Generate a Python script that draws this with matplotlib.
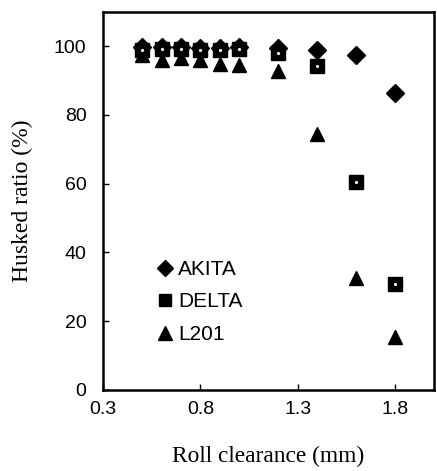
import matplotlib
matplotlib.use("Agg")
import matplotlib.pyplot as plt

# roll clearance (mm)
clearance = [0.5, 0.6, 0.7, 0.8, 0.9, 1.0, 1.2, 1.4, 1.6, 1.8]

# husked ratio (%)
akita = [99.8, 99.8, 99.8, 99.6, 99.6, 99.8, 99.5, 98.8, 97.5, 86.3]
delta = [99.0, 99.3, 99.3, 99.0, 99.0, 99.3, 98.0, 94.2, 60.4, 30.9]
l201 = [97.5, 96.0, 96.7, 96.1, 94.7, 94.6, 92.8, 74.5, 32.7, 15.3]

xticks = [0.3, 0.8, 1.3, 1.8]
yticks = [0, 20, 40, 60, 80, 100]

fig = plt.figure(figsize=(4.37, 4.71), dpi=100)
ax = fig.add_axes([0.236, 0.172, 0.757, 0.803])

ax.plot(clearance, akita, linestyle='none', marker='D', markersize=9,
        color='black', label='AKITA')
ax.plot(clearance, l201, linestyle='none', marker='^', markersize=10.5,
        color='black', label='L201')
ax.plot(clearance, delta, linestyle='none', marker='s', markersize=9.5,
        color='black', label='DELTA')
# little white dots inside the squares
ax.plot(clearance, delta, linestyle='none', marker='.', markersize=2.5,
        color='white')

ax.set_xlim(0.3, 2.0)
ax.set_ylim(0, 110)
ax.set_xticks(xticks)
ax.set_yticks(yticks)
ax.set_xticklabels([f"{v:.1f}" for v in xticks], family='Liberation Sans', fontsize=14)
ax.set_yticklabels([str(v) for v in yticks], family='Liberation Sans', fontsize=14)
ax.tick_params(direction='in', length=4, width=1)
ax.tick_params(axis='y', pad=12)
ax.tick_params(axis='x', pad=8)

for s in ax.spines.values():
    s.set_linewidth(1.8)

ax.set_xlabel('Roll clearance (mm)', family='Liberation Serif', fontsize=16.8)
ax.set_ylabel('Husked ratio (%)', family='Liberation Serif', fontsize=17)
ax.xaxis.set_label_coords(0.5, -0.148)
ax.yaxis.set_label_coords(-0.211, 0.5)

handles, labels = ax.get_legend_handles_labels()
order = [0, 2, 1]
leg = ax.legend([handles[i] for i in order], [labels[i] for i in order],
                loc='center left', bbox_to_anchor=(0.11, 0.233), frameon=False,
                handlelength=0.6, handletextpad=0.35, labelspacing=0.65,
                prop={'family': 'Liberation Sans', 'size': 15}, markerscale=0.95)

fig.savefig('out.png', dpi=100)
